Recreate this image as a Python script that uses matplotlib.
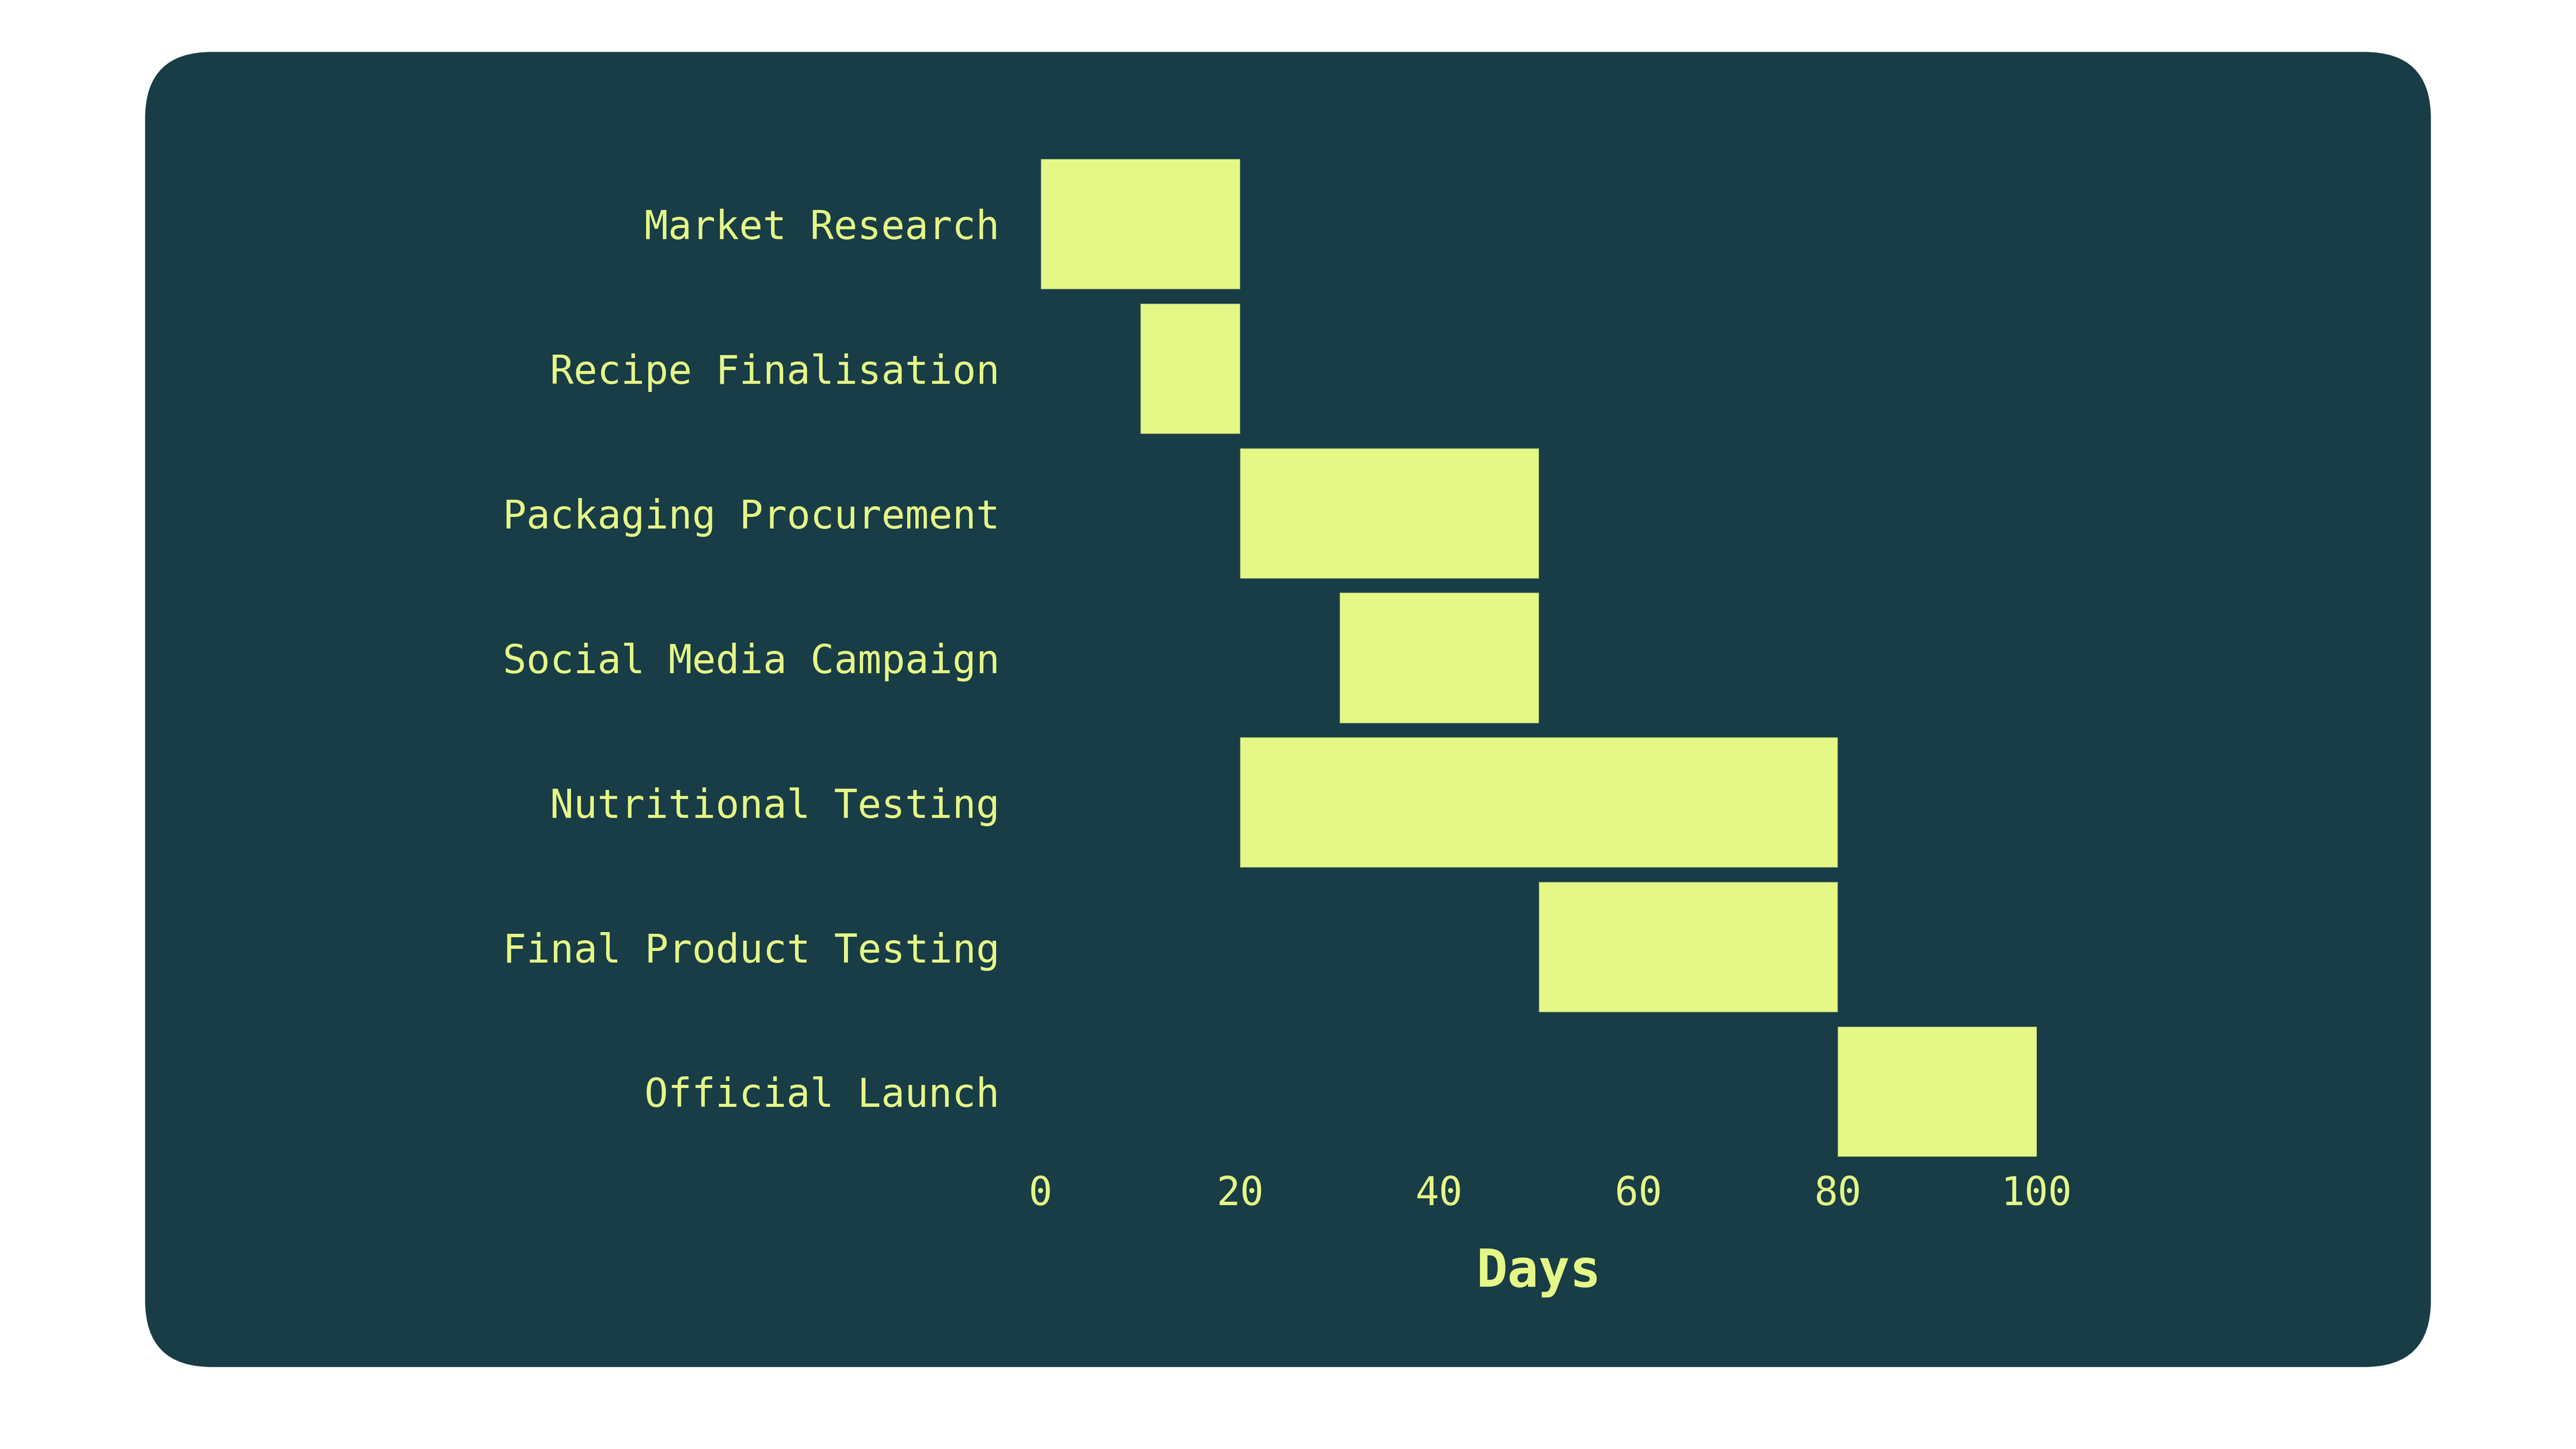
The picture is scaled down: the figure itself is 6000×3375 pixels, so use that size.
import matplotlib
matplotlib.use("Agg")
import matplotlib.pyplot as plt
from matplotlib.patches import FancyBboxPatch

# task data (days)
tasks = ["Market Research", "Recipe Finalisation", "Packaging Procurement",
         "Social Media Campaign", "Nutritional Testing", "Final Product Testing",
         "Official Launch"]
start = [0, 10, 20, 30, 20, 50, 80]
end = [20, 20, 50, 50, 80, 80, 100]
xticks = [0, 20, 40, 60, 80, 100]

bg = "#183d46"
fg = "#e5f786"

plt.rcParams["font.family"] = ["DejaVu Sans Mono", "DejaVu Sans"]

fig = plt.figure(figsize=(20, 11.25), dpi=300, facecolor="white")

# rounded dark card behind the chart
card = FancyBboxPatch((338 / 6000, 1 - 3184 / 3375),
                      (5662 - 338) / 6000, (3184 - 121) / 3375,
                      boxstyle="round,pad=0,rounding_size=%f" % (155 / 6000),
                      mutation_aspect=6000 / 3375,
                      transform=fig.transFigure, facecolor=bg, edgecolor="none",
                      zorder=-5)
fig.patches.append(card)

ax = fig.add_axes([2424 / 6000, 1 - 2694 / 3375, 2320 / 6000, (2694 - 370) / 3375])
ax.set_facecolor("none")
ax.set_zorder(5)

widths = [e - s for s, e in zip(start, end)]
ax.barh(range(len(tasks)), widths, left=start, height=0.9, color=fg,
        edgecolor="#5a7a5a", linewidth=0.3)

ax.set_yticks(range(len(tasks)))
ax.set_yticklabels(tasks)
ax.set_xticks(xticks)
ax.set_xlim(0, 100)
ax.set_ylim(len(tasks) - 0.55, -0.45)

for s in ax.spines.values():
    s.set_visible(False)
ax.tick_params(axis="y", length=0, pad=23, labelsize=22, labelcolor=fg)
ax.tick_params(axis="x", length=0, pad=10, labelsize=22, labelcolor=fg)
ax.set_xlabel("Days", fontsize=29, fontweight="bold", color=fg, labelpad=19)

fig.savefig("out.png", dpi=300, facecolor="white")
